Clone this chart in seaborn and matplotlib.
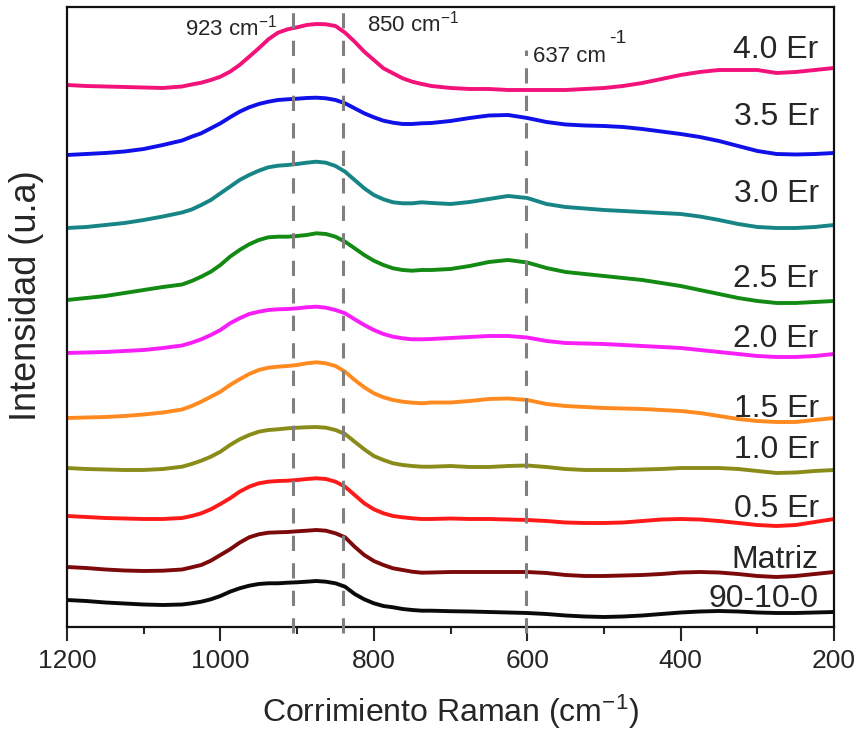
import numpy as np
import pandas as pd
import matplotlib
matplotlib.use("Agg")
import matplotlib.pyplot as plt
import seaborn as sns

# Raman shift grid (cm-1); finer sampling across the main 1040-740 cm-1 band
shift = [1200, 1175, 1150, 1125, 1100, 1075, 1050,
         1037.5, 1025, 1012.5, 1000, 987.5, 975, 962.5, 950, 937.5, 925,
         912.5, 900, 887.5, 875, 862.5, 850, 837.5, 825, 812.5, 800, 787.5,
         775, 762.5, 750, 737.5,
         725, 700, 675, 650, 625, 600, 575, 550, 525, 500, 475, 450, 425,
         400, 375, 350, 325, 300, 275, 250, 225, 200]

# Offset (stacked) intensities, arbitrary units
er_40 = [542, 541, 540.5, 540, 539.5, 539, 540.5,
         542.5, 544.3, 547, 550.3, 555.3, 562, 570.3, 578.7, 587.7, 594.3,
         597.7, 599.7, 602, 603, 602.7, 601, 594.3, 585.3, 575.3, 567, 558.7,
         553.7, 548.7, 545.3, 543,
         541, 539, 538, 538, 537, 537, 537, 537, 538, 539, 541, 544, 548,
         552, 555, 557, 557, 557, 554, 555, 557, 559]
er_35 = [472, 473, 474, 475.5, 478, 482, 486.5,
         490.3, 493.7, 498.7, 503.7, 509.7, 515.3, 519.7, 523, 525.3, 527,
         527.7, 528.3, 529, 529.3, 528.7, 527, 523.7, 518.7, 513.7, 509.7,
         506.3, 504.3, 503, 503, 503.7,
         504, 506, 509, 511.5, 512, 509, 505, 502.5, 501.5, 501, 500, 498,
         495.5, 493, 490, 486, 481, 476, 473, 472.5, 473, 474]
er_30 = [399, 400, 402, 404, 407, 410.5, 414.5,
         417.5, 422, 427, 433.7, 440.3, 447, 452, 456.3, 459.7, 461.3,
         462, 463, 464.3, 465.3, 464.3, 461, 455.3, 447, 438.7, 432, 427.7,
         424.7, 423.7, 423.7, 424.7,
         424, 423, 425, 428, 431, 429, 423, 420, 418.5, 417, 416, 415, 414,
         413, 410.5, 407, 403, 400, 399, 399, 400, 402]
er_25 = [327, 329, 331, 334, 337, 340, 342.5,
         346, 350.3, 355.3, 362, 370.3, 377, 382.7, 387, 389.7, 390.3,
         390.3, 391, 392, 393.7, 393, 390.3, 385.3, 378.7, 372, 366.3, 362,
         358.7, 357, 356.3, 357,
         357, 358, 361, 365, 367, 364.5, 359, 355, 353, 351, 349, 347, 344,
         341, 337, 333, 329, 326, 324, 324, 325, 326]
er_20 = [274, 274.5, 275, 276, 277, 279, 281.5,
         284.3, 287.7, 292, 297, 303.7, 308.7, 313, 315.3, 317, 317.7,
         318, 318.7, 319.7, 320.3, 319.3, 317, 313.7, 307.7, 302, 297, 293,
         290.3, 288.7, 287.7, 287.7,
         288, 289, 290, 291, 291, 289.5, 286, 284, 283.5, 283, 282, 281, 280,
         279, 277, 275, 273, 271, 270, 270, 271, 273]
er_15 = [209, 209.5, 210, 211, 212.5, 214.5, 217.5,
         221, 225.3, 230.3, 235.3, 242, 247.7, 253, 257, 259.3, 260.3,
         261, 262, 263.7, 264.7, 263.7, 261, 255.3, 247, 239.7, 233.7, 229.7,
         227, 225.3, 224.3, 223.7,
         224.5, 224.5, 226, 228, 228.5, 227, 223, 221, 220, 219, 218.5, 218,
         217, 216, 214, 211, 208, 206, 205, 205, 207, 209]
er_10 = [159, 158, 157.5, 157, 157, 158, 160.3,
         163, 166.3, 170.3, 175.3, 182, 187.7, 192, 195.3, 197, 197.7,
         198.7, 199.3, 199.7, 200, 199.3, 197, 193, 185.3, 177.7, 171, 167,
         163.7, 162, 161, 160.3,
         160.3, 161, 160, 160, 161, 161.5, 160, 158, 157, 157, 157, 157.5,
         158, 159, 159, 159, 158, 156, 154, 154.5, 156, 157]
er_05 = [111, 110, 109, 108.5, 108, 108, 109,
         111, 113.7, 117.7, 123, 128.7, 135.3, 140.3, 143.7, 145.3, 146,
         146.3, 147, 148, 148.7, 148, 145.3, 140.3, 132, 123.7, 117.7, 113.7,
         111, 109.7, 108.7, 108,
         108, 108.5, 108, 108, 107.5, 107, 106, 104.5, 104, 104, 104.5, 106,
         107.5, 108, 107.5, 106, 104, 102, 101, 102, 105, 108]
matriz = [60, 59, 57.5, 56.5, 56, 56.3, 57.5,
          59.7, 62, 66.3, 72, 77.7, 84.3, 89.7, 92.7, 94.3, 94.7,
          95, 95.7, 96.3, 97, 96.3, 93.7, 89.7, 80.3, 72, 66, 62,
          58.7, 57, 55.3, 54.3,
          54.5, 55, 55, 55, 55, 55, 54, 52, 51, 51, 51.5, 52, 53,
          54.5, 55, 54.5, 53, 51, 50, 51, 53, 55]
base_90_10_0 = [27, 26, 24.5, 23.5, 22.5, 22, 22.5,
                23.7, 25.3, 27.7, 31, 35.3, 38.7, 41.3, 43, 43.7, 43.7,
                44.3, 44.7, 45.3, 46, 45.3, 43.7, 40.3, 33, 27.7, 23.7, 21,
                19.7, 18, 17, 16.3,
                16.3, 15.8, 15.5, 15, 14.5, 14, 13, 11.5, 10.5, 10, 10.5, 11.5,
                13, 14.5, 15.5, 16, 15.5, 14.5, 14, 14, 14.5, 15]

samples = ["90-10-0", "Matriz", "0.5 Er", "1.0 Er", "1.5 Er", "2.0 Er",
           "2.5 Er", "3.0 Er", "3.5 Er", "4.0 Er"]
spectra = [base_90_10_0, matriz, er_05, er_10, er_15, er_20, er_25, er_30,
           er_35, er_40]
colors = ["#0a0a0a", "#7d0a0a", "#ff1a1a", "#8a8c1a", "#ff8a1f", "#f81ef8",
          "#138a13", "#178585", "#1010e8", "#f2127a"]

# Baseline heights of the sample labels (intensity units)
label_y = [20, 59, 110, 169, 210, 280, 340, 425, 502, 569]

# Dashed guides at the reference bands
band_pos = [905, 840, 602]
band_top = [617, 617, 577]

df = pd.concat(
    [pd.DataFrame({"shift": shift, "intensity": s, "sample": name})
     for name, s in zip(samples, spectra)],
    ignore_index=True,
)

sns.set_style("ticks")
plt.rcParams["font.family"] = ["Liberation Sans", "DejaVu Sans"]
plt.rcParams["mathtext.fontset"] = "custom"
plt.rcParams["mathtext.rm"] = "Liberation Sans"
plt.rcParams["mathtext.it"] = "Liberation Sans:italic"
plt.rcParams["mathtext.bf"] = "Liberation Sans:bold"

fig = plt.figure(figsize=(8.57, 7.36), dpi=100)
ax = fig.add_axes([0.0782, 0.1481, 0.895, 0.8424])

sns.lineplot(data=df, x="shift", y="intensity", hue="sample",
             hue_order=samples, palette=colors, linewidth=2.8,
             estimator=None, sort=False, legend=False, ax=ax)
for ln in ax.get_lines():
    ln.set_solid_joinstyle("round")
    ln.set_solid_capstyle("round")

for xp, top in zip(band_pos, band_top):
    ax.plot([xp, xp], [-6, top], color="#808080", lw=2.2,
            linestyle=(0, (5, 4)), clip_on=False, zorder=3)

ax.text(926, 591, r"923 cm$^{\mathregular{-1}}$", ha="right", va="baseline",
        fontsize=16)
ax.text(809, 595, r"850 cm$^{\mathregular{-1}}$", ha="left", va="baseline",
        fontsize=16)
t637 = ax.text(592, 565, "637 cm", ha="left", va="baseline", fontsize=16)
ax.annotate("-1", xy=(1, 0), xycoords=t637, xytext=(2, 17),
            textcoords="offset points", ha="left", va="baseline", fontsize=14)

for name, yl in zip(samples, label_y):
    ax.text(220, yl, name, ha="right", va="baseline", fontsize=23)

ax.set_xlim(1200, 200)
ax.set_ylim(0, 620)
ax.set_xticks([1200, 1000, 800, 600, 400, 200])
ax.set_xticks([1100, 900, 700, 500, 300], minor=True)
ax.set_yticks([])
ax.tick_params(axis="x", which="major", direction="out", length=10,
               width=1.5, labelsize=19, pad=6)
ax.tick_params(axis="x", which="minor", direction="out", length=5, width=1.5)
for sp in ax.spines.values():
    sp.set_linewidth(1.6)
    sp.set_color("#111111")

ax.set_xlabel(r"Corrimiento Raman (cm$^{\mathregular{-1}}$)", fontsize=23,
              labelpad=14)
ax.set_ylabel("Intensidad (u.a)", fontsize=26)
ax.yaxis.set_label_coords(-0.030, 0.535)

fig.savefig("out.png", dpi=100)
